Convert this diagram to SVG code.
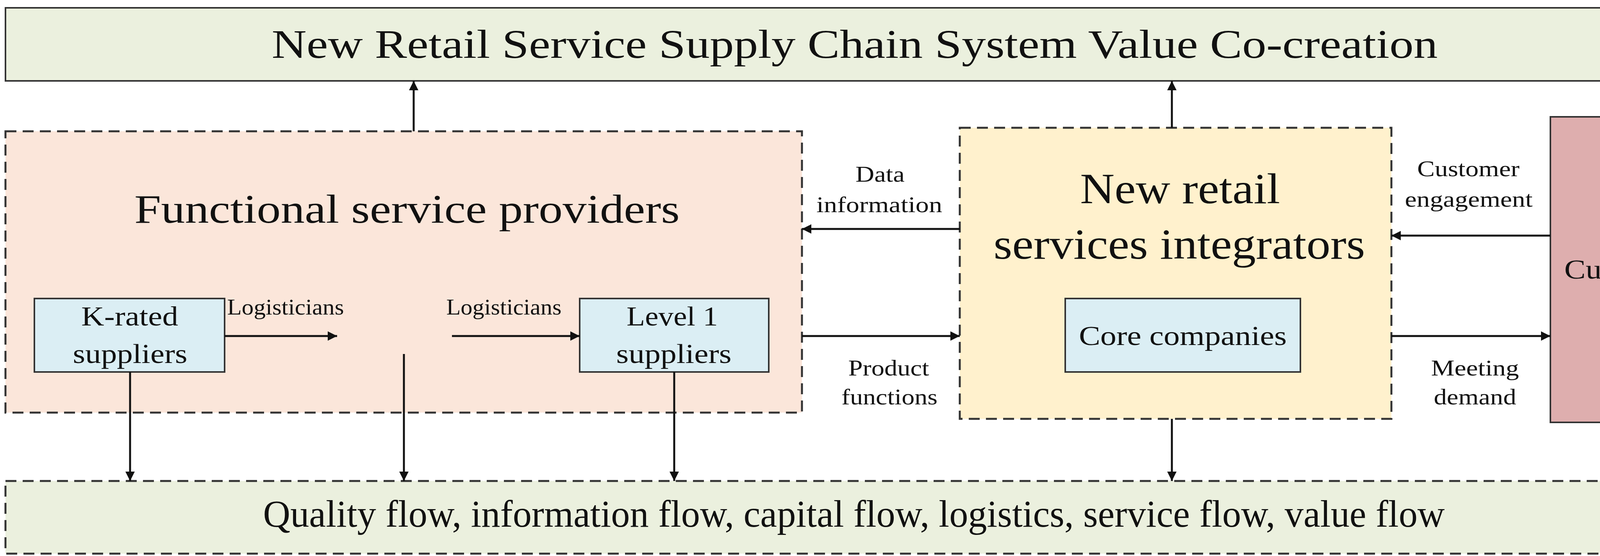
<svg xmlns="http://www.w3.org/2000/svg" width="4376" height="1423" viewBox="0 0 4376 1423">
<style>
text{font-family:"Liberation Serif","Times New Roman",serif;fill:#111;text-anchor:middle}
.big{font-size:104px}.mid{font-size:70px}.sm{font-size:56px}
.solid{stroke:#333;stroke-width:4}
.dash{stroke:#333;stroke-width:5;stroke-dasharray:28 16}
.ln{stroke:#111;stroke-width:5;fill:none;marker-end:url(#ah)}
</style>
<defs><marker id="ah" viewBox="0 0 10 10" refX="10" refY="5" markerWidth="6" markerHeight="6" orient="auto" markerUnits="userSpaceOnUse" overflow="visible"><path d="M0,0 L10,5 L0,10 z" fill="#111" transform="scale(4)" transform-origin="10 5"/></marker></defs>
<rect width="4376" height="1423" fill="#fff"/>
<g id="top"><rect x="14" y="20" width="4344" height="187" fill="#ebf0de" class="solid"/><text x="2188" y="148" class="big" textLength="2985" lengthAdjust="spacingAndGlyphs">New Retail Service Supply Chain System Value Co-creation</text></g>
<g id="bottom"><rect x="14" y="1231" width="4344" height="186" fill="#ebf0de" class="dash"/><text x="2186" y="1348" style="font-size:98px" textLength="3025" lengthAdjust="spacingAndGlyphs">Quality flow, information flow, capital flow, logistics, service flow, value flow</text></g>
<g id="fsp"><rect x="14" y="336" width="2039" height="720" fill="#fbe6da" class="dash"/><text x="1042" y="570" class="big" textLength="1396" lengthAdjust="spacingAndGlyphs">Functional service providers</text></g>
<g id="krated"><rect x="88" y="764" width="487" height="188" fill="#dbeef4" class="solid"/><text x="332" y="833" class="mid" textLength="248" lengthAdjust="spacingAndGlyphs">K-rated</text><text x="333" y="929" class="mid" textLength="293" lengthAdjust="spacingAndGlyphs">suppliers</text></g>
<g id="level1"><rect x="1484" y="764" width="484" height="188" fill="#dbeef4" class="solid"/><text x="1721" y="833" class="mid" textLength="234" lengthAdjust="spacingAndGlyphs">Level 1</text><text x="1725" y="929" class="mid" textLength="295" lengthAdjust="spacingAndGlyphs">suppliers</text></g>
<g id="integrator"><rect x="2457" y="327" width="1105" height="745" fill="#fff1cd" class="dash"/><text x="3021" y="520" style="font-size:110px" textLength="512" lengthAdjust="spacingAndGlyphs">New retail</text><text x="3019" y="662" style="font-size:110px" textLength="951" lengthAdjust="spacingAndGlyphs">services integrators</text></g>
<g id="core"><rect x="2727" y="764" width="602" height="188" fill="#dbeef4" class="solid"/><text x="3028" y="883" class="mid" textLength="532" lengthAdjust="spacingAndGlyphs">Core companies</text></g>
<g id="customer"><rect x="3969" y="299" width="389" height="782" fill="#deaeae" class="solid"/><text x="4164" y="713" class="mid" textLength="319" lengthAdjust="spacingAndGlyphs">Customer</text></g>
<g id="connectors">
<path class="ln" d="M1059 336V207"/><path class="ln" d="M3000 327V207"/><path class="ln" d="M4163 299V207"/>
<path class="ln" d="M333 952V1231"/><path class="ln" d="M1034 906V1231"/><path class="ln" d="M1726 952V1231"/>
<path class="ln" d="M3000 1072V1231"/><path class="ln" d="M4163 1081V1231"/>
<path class="ln" d="M575 860H863"/><path class="ln" d="M1157 860H1484"/>
<path class="ln" d="M2457 586H2053"/><path class="ln" d="M2053 860H2457"/>
<path class="ln" d="M3969 603H3562"/><path class="ln" d="M3562 860H3969"/>
<text x="731" y="805" class="sm" textLength="299" lengthAdjust="spacingAndGlyphs">Logisticians</text><text x="1290" y="805" class="sm" textLength="295" lengthAdjust="spacingAndGlyphs">Logisticians</text>
<text x="2253" y="465" class="sm" textLength="126" lengthAdjust="spacingAndGlyphs">Data</text><text x="2251" y="543" class="sm" textLength="322" lengthAdjust="spacingAndGlyphs">information</text>
<text x="2275" y="961" class="sm" textLength="207" lengthAdjust="spacingAndGlyphs">Product</text><text x="2277" y="1035" class="sm" textLength="246" lengthAdjust="spacingAndGlyphs">functions</text>
<text x="3759" y="451" class="sm" textLength="262" lengthAdjust="spacingAndGlyphs">Customer</text><text x="3760" y="529" class="sm" textLength="327" lengthAdjust="spacingAndGlyphs">engagement</text>
<text x="3776" y="961" class="sm" textLength="225" lengthAdjust="spacingAndGlyphs">Meeting</text><text x="3776" y="1035" class="sm" textLength="211" lengthAdjust="spacingAndGlyphs">demand</text>
</g>
</svg>
